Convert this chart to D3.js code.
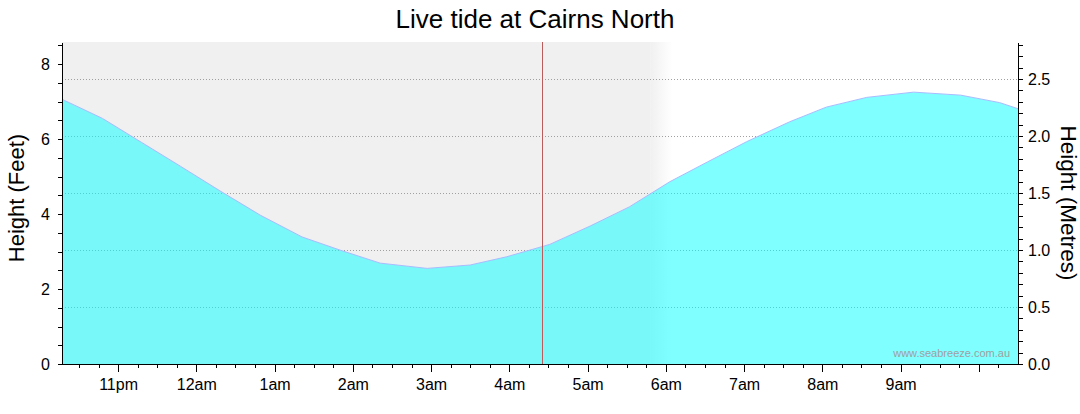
<!DOCTYPE html>
<html>
<head>
<meta charset="utf-8">
<script src="https://cdn.jsdelivr.net/npm/d3@7"></script>
<style>
  body { margin: 0; background: #fff; }
  svg { display: block; font-family: "Liberation Sans", Arial, sans-serif; }
  .axis text { font-size: 16px; fill: #000; }
  .axis path, .axis line { stroke: #000; shape-rendering: crispEdges; }
</style>
</head>
<body>
<svg id="chart" width="1080" height="414"></svg>
<script>
// tide readings (local time, height in feet)
var tideTimes = ['22:00', '22:48', '23:18', '23:48', '00:18', '00:49', '01:21', '01:50', '02:21', '02:57',
    '03:30', '03:58', '04:31', '05:02', '05:32', '06:03', '06:32', '07:02', '07:35', '08:03',
    '08:34', '09:10', '09:46', '10:16', '10:47'];
var tideFeet = [7.34, 6.55, 5.91, 5.27, 4.62, 3.97, 3.39, 3.04, 2.69, 2.55,
    2.64, 2.86, 3.19, 3.68, 4.19, 4.86, 5.39, 5.93, 6.46, 6.85,
    7.11, 7.25, 7.17, 6.97, 6.61];

// hour ticks along the bottom
var hourTicks = ['23:00', '00:00', '01:00', '02:00', '03:00', '04:00', '05:00', '06:00', '07:00', '08:00', '09:00', '10:00'];
var hourLabels = ['11pm', '12am', '1am', '2am', '3am', '4am', '5am', '6am', '7am', '8am', '9am', ''];

var viewStart = '22:17', viewEnd = '10:30', nowTime = '04:25';
var nightEnd = '05:48', dawnEnd = '06:05';

var feetTicks = d3.range(0, 8.51, 0.5), feetLabels = [0, 2, 4, 6, 8];
var metreTicks = d3.range(0, 2.81, 0.1), metreGrid = [0.5, 1.0, 1.5, 2.0, 2.5];

(function () {
    'use strict';

    function parseTime(s) {
        var p = s.split(':'), h = +p[0], m = +p[1];
        return new Date(2024, 0, h >= 12 ? 1 : 2, h, m);
    }

    var plotLeft = 62, plotRight = 1018, plotTop = 42, plotBottom = 364;
    var svg = d3.select('#chart');

    var x = d3.scaleTime().domain([parseTime(viewStart), parseTime(viewEnd)]).range([plotLeft, plotRight]);
    var yFeet = d3.scaleLinear().domain([0, 8.587]).range([plotBottom, plotTop]);
    var yMetres = d3.scaleLinear().domain([0, 2.825]).range([plotBottom, plotTop]);

    var defs = svg.append('defs');
    defs.append('clipPath').attr('id', 'plot-clip').append('rect')
        .attr('x', plotLeft).attr('y', plotTop).attr('width', plotRight - plotLeft).attr('height', plotBottom - plotTop);
    var grad = defs.append('linearGradient').attr('id', 'dawn').attr('x1', 0).attr('x2', 1).attr('y1', 0).attr('y2', 0);
    grad.append('stop').attr('offset', 0).attr('stop-color', '#f0f0f0');
    grad.append('stop').attr('offset', 1).attr('stop-color', '#ffffff');

    // night shading
    var nightX = x(parseTime(nightEnd)), dawnX = x(parseTime(dawnEnd));
    svg.append('rect').attr('x', plotLeft).attr('y', plotTop)
        .attr('width', nightX - plotLeft).attr('height', plotBottom - plotTop).attr('fill', '#f0f0f0');
    svg.append('rect').attr('x', nightX).attr('y', plotTop)
        .attr('width', dawnX - nightX).attr('height', plotBottom - plotTop).attr('fill', 'url(#dawn)');

    // gridlines (metres)
    svg.append('g').selectAll('line').data(metreGrid).enter().append('line')
        .attr('x1', plotLeft).attr('x2', plotRight)
        .attr('y1', function (d) { return Math.round(yMetres(d)) + 0.5; })
        .attr('y2', function (d) { return Math.round(yMetres(d)) + 0.5; })
        .attr('stroke', '#a0a0a0').attr('stroke-dasharray', '1,2');

    var tide = tideTimes.map(function (t, i) { return { time: parseTime(t), feet: tideFeet[i] }; });

    var plot = svg.append('g').attr('clip-path', 'url(#plot-clip)');
    plot.append('path').datum(tide)
        .attr('d', d3.area().x(function (d) { return x(d.time); }).y0(plotBottom).y1(function (d) { return yFeet(d.feet); }))
        .attr('fill', '#00ffff').attr('fill-opacity', 0.5);
    plot.append('path').datum(tide)
        .attr('d', d3.line().x(function (d) { return x(d.time); }).y(function (d) { return yFeet(d.feet); }))
        .attr('fill', 'none').attr('stroke', '#a8bcff').attr('stroke-width', 1);

    // current time marker
    var nowX = Math.round(x(parseTime(nowTime))) + 0.5;
    svg.append('line').attr('x1', nowX).attr('x2', nowX).attr('y1', plotTop).attr('y2', plotBottom)
        .attr('stroke', '#b85c5c').attr('stroke-width', 1);

    // watermark
    svg.append('text').attr('x', 1010).attr('y', 357).attr('text-anchor', 'end')
        .attr('font-size', 11).attr('fill', '#a0a0a0').text('www.seabreeze.com.au');

    // axes
    svg.append('g').attr('class', 'axis').attr('transform', 'translate(' + plotLeft + ',0)')
        .call(d3.axisLeft(yFeet).tickValues(feetTicks).tickSize(4).tickSizeOuter(0).tickPadding(8)
            .tickFormat(function (d) { return feetLabels.indexOf(d) >= 0 ? d : ''; }));

    svg.append('g').attr('class', 'axis').attr('transform', 'translate(' + plotRight + ',0)')
        .call(d3.axisRight(yMetres).tickValues(metreTicks).tickSize(5).tickSizeOuter(0).tickPadding(5)
            .tickFormat(function (d) {
                var r = Math.round(d * 10);
                return r % 5 === 0 ? (r / 10).toFixed(1) : '';
            }));

    var quarterTicks = d3.timeMinute.every(15).range(parseTime('22:30'), parseTime('10:30'));
    svg.append('g').attr('class', 'axis').attr('transform', 'translate(0,' + plotBottom + ')')
        .call(d3.axisBottom(x).tickValues(quarterTicks).tickSize(4).tickSizeOuter(0).tickFormat(''));

    svg.append('g').attr('class', 'axis').attr('transform', 'translate(0,' + plotBottom + ')')
        .call(d3.axisBottom(x).tickValues(hourTicks.map(parseTime)).tickSize(8).tickSizeOuter(0).tickPadding(7)
            .tickFormat(function (d, i) { return hourLabels[i]; }));

    // titles
    svg.append('text').attr('x', 535).attr('y', 28).attr('text-anchor', 'middle')
        .attr('font-size', 26).attr('fill', '#000').text('Live tide at Cairns North');
    svg.append('text').attr('transform', 'translate(24,198) rotate(-90)').attr('text-anchor', 'middle')
        .attr('font-size', 22).attr('fill', '#000').text('Height (Feet)');
    svg.append('text').attr('transform', 'translate(1061,203) rotate(90)').attr('text-anchor', 'middle')
        .attr('font-size', 22.5).attr('fill', '#000').text('Height (Metres)');
})();
</script>
</body>
</html>
